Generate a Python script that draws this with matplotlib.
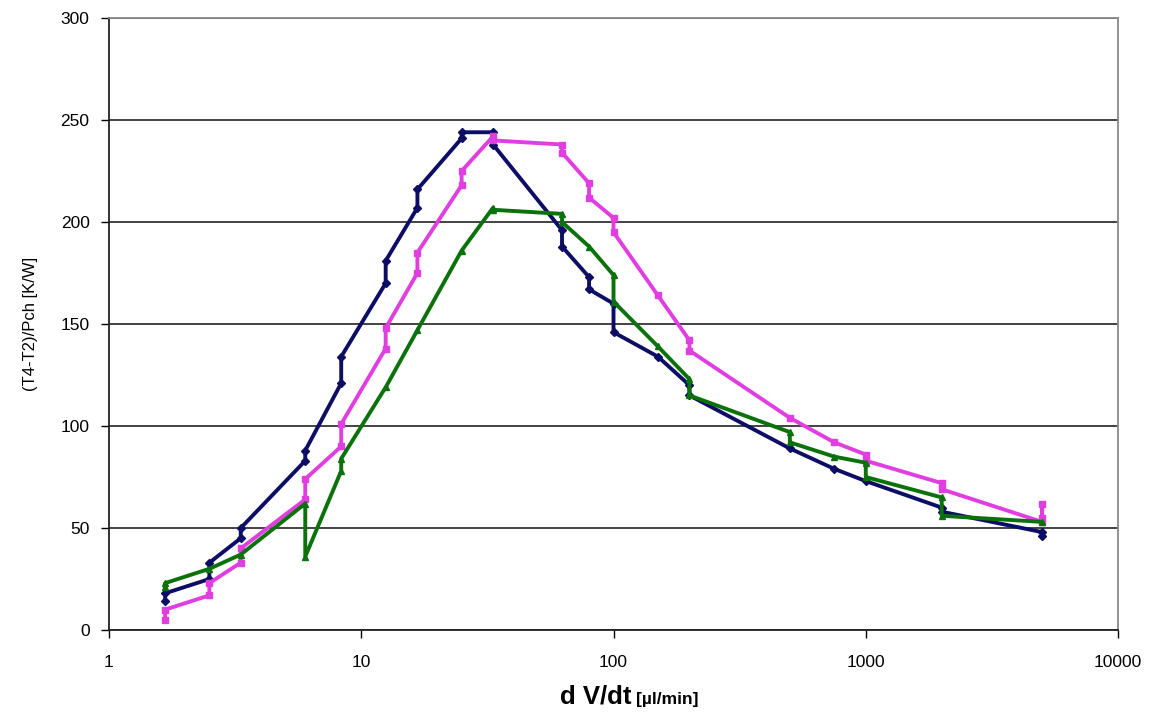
import numpy as np
import matplotlib
matplotlib.use("Agg")
import matplotlib.pyplot as plt

plt.rcParams["font.family"] = ["Liberation Sans", "DejaVu Sans"]

# flow rate dV/dt [ul/min]; repeated x = repeated measurement at the same rate
navy_x = [1.67, 1.67, 2.5, 2.5, 3.33, 3.33, 6.0, 6.0, 8.33, 8.33, 12.5, 12.5, 16.7, 16.7,
          25, 25, 33.3, 33.3, 62.5, 62.5, 80, 80, 100, 100, 150, 200, 200, 500, 750, 1000,
          2000, 2000, 5000, 5000]
navy_y = [14, 18, 25, 33, 45, 50, 83, 88, 121, 134, 170, 181, 207, 216,
          241, 244, 244, 238, 196, 188, 173, 167, 160, 146, 134, 120, 115, 89, 79, 73,
          60, 58, 48, 46]

mag_x = [1.67, 1.67, 2.5, 2.5, 3.33, 3.33, 6.0, 6.0, 8.33, 8.33, 12.5, 12.5, 16.7, 16.7,
         25, 25, 33.3, 33.3, 62.5, 62.5, 80, 80, 100, 100, 150, 200, 200, 500, 750,
         1000, 1000, 2000, 2000, 5000, 5000, 5000]
mag_y = [5, 10, 17, 23, 33, 40, 64, 74, 90, 101, 138, 148, 175, 185,
         218, 225, 242, 240, 238, 234, 219, 212, 202, 195, 164, 142, 137, 104, 92,
         86, 83, 72, 69, 53, 62, 55]

grn_x = [1.67, 1.67, 2.5, 3.33, 6.0, 6.0, 8.33, 8.33, 12.5, 16.7, 25, 33.3, 33.3,
         62.5, 62.5, 80, 100, 100, 150, 200, 200, 500, 500, 750, 1000, 1000,
         2000, 2000, 5000]
grn_y = [21, 23, 30, 37, 62, 36, 78, 84, 119, 147, 186, 207, 206,
         204, 200, 188, 174, 161, 139, 123, 115, 97, 92, 85, 82, 75,
         65, 56, 53]

x_ticks = [1, 10, 100, 1000, 10000]
y_ticks = [0, 50, 100, 150, 200, 250, 300]

fig = plt.figure(figsize=(11.53, 7.24), dpi=100)
ax = fig.add_axes([0.0945, 0.1298, 0.8752, 0.8453])

ax.plot(navy_x, navy_y, "-", color="#0d0d66", lw=2.8, marker="D", ms=4, zorder=3)
ax.plot(mag_x, mag_y, "-", color="#e03ee0", lw=2.8, marker="s", ms=4, zorder=4)
ax.plot(grn_x, grn_y, "-", color="#0b720b", lw=2.8, marker="^", ms=4, zorder=5)

ax.set_xscale("log")
ax.set_xlim(1, 10000)
ax.set_ylim(0, 300)
ax.set_xticks(x_ticks)
ax.set_xticklabels([str(v) for v in x_ticks])
ax.set_yticks(y_ticks)
ax.xaxis.set_minor_locator(matplotlib.ticker.NullLocator())
ax.tick_params(axis="both", direction="out", length=6, width=1, labelsize=12.5, colors="black")
ax.tick_params(axis="x", pad=12)
ax.tick_params(axis="y", pad=8)
ax.grid(axis="y", color="#222222", lw=1.2)
ax.set_axisbelow(True)
for s in ("left", "bottom"):
    ax.spines[s].set_color("#222222")
    ax.spines[s].set_linewidth(1.3)
for s in ("top", "right"):
    ax.spines[s].set_color("#888888")
    ax.spines[s].set_linewidth(1.3)

ax.set_ylabel("(T4-T2)/Pch [K/W]", fontsize=12, labelpad=16)

fig.text(0.548, 0.028, "d V/dt", fontsize=18.5, fontweight="bold", ha="right", va="baseline")
fig.text(0.552, 0.028, "[µl/min]", fontsize=12.5, fontweight="bold", ha="left", va="baseline")

fig.savefig("out.png", dpi=100)
